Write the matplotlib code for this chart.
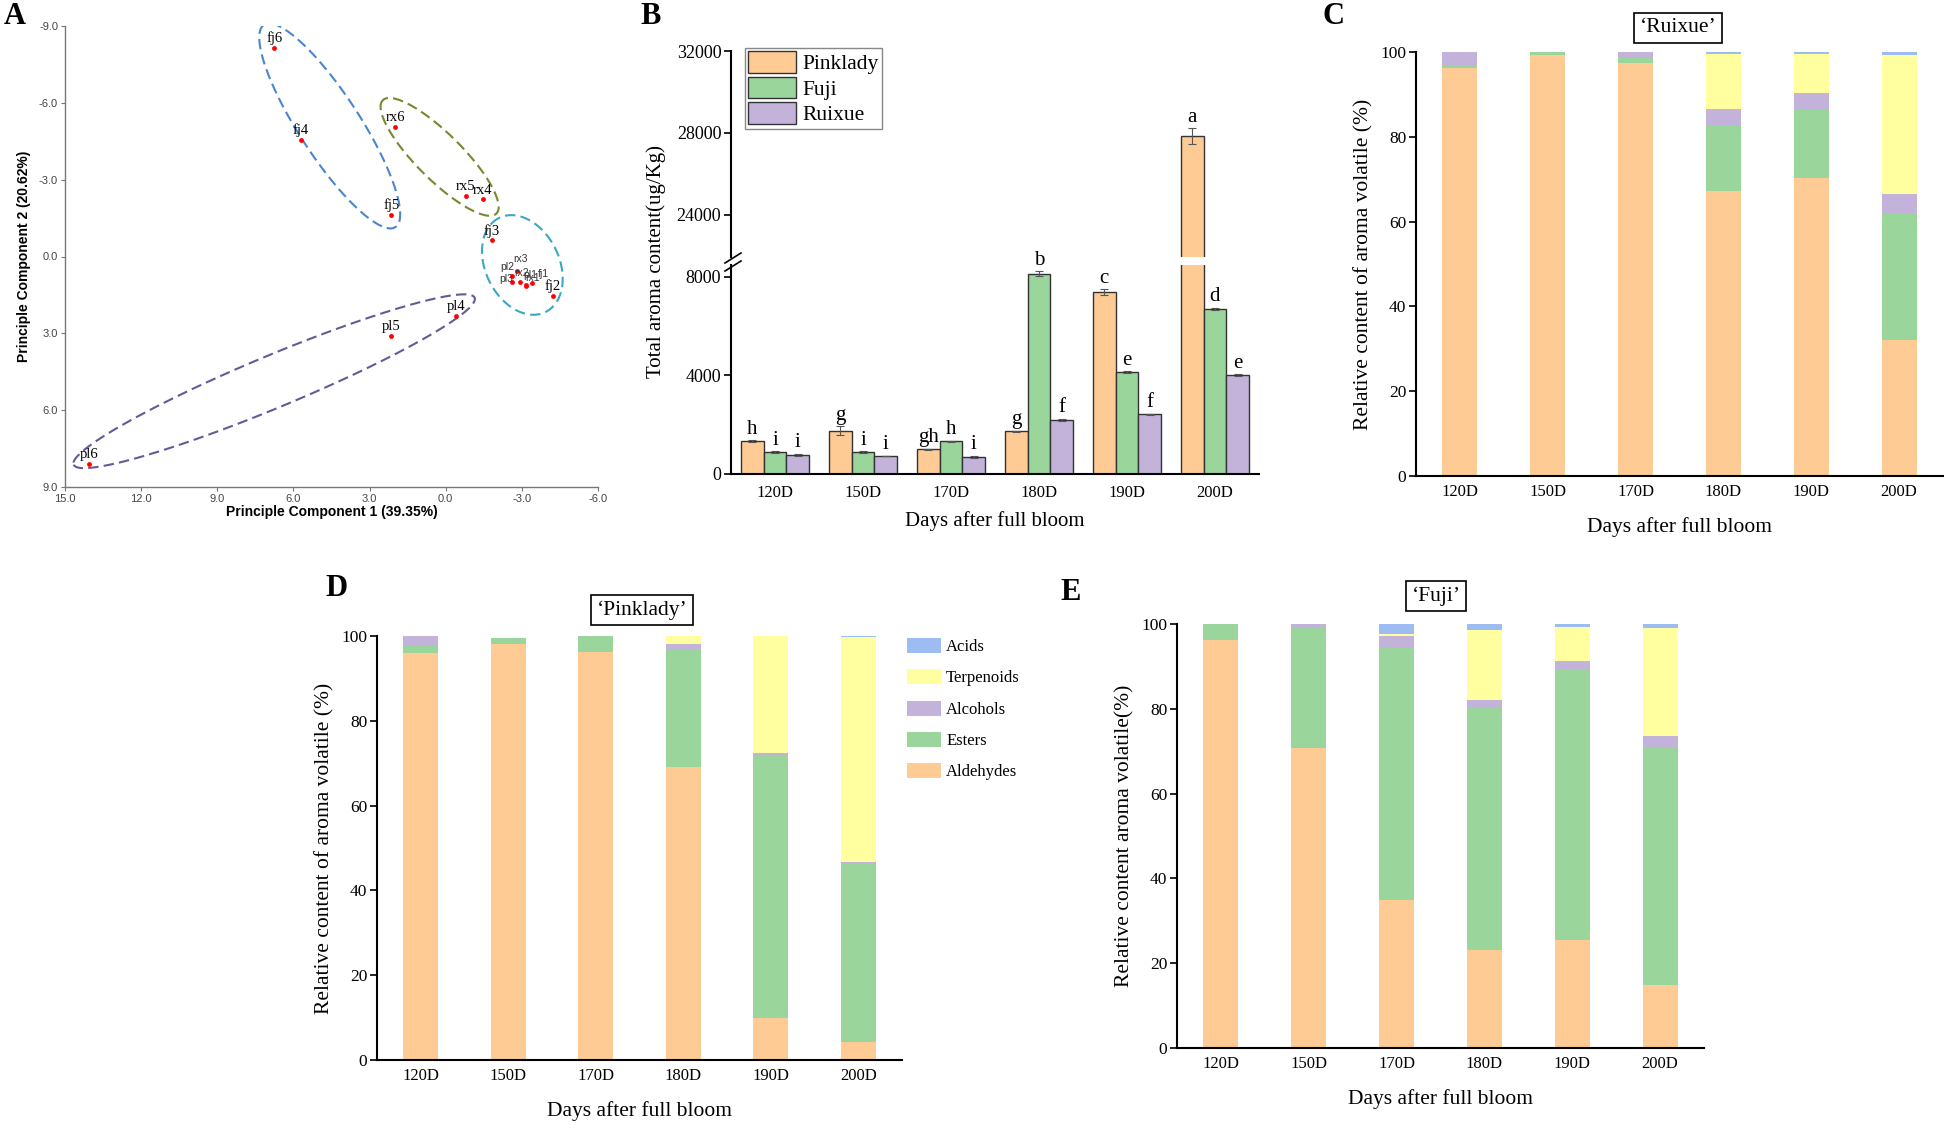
import numpy as np
import matplotlib.pyplot as plt
from matplotlib.patches import Patch
from matplotlib.lines import Line2D
from matplotlib.ticker import FixedLocator, FuncFormatter

W, H = 1944, 1125
plt.rcParams['font.family'] = 'Liberation Serif'
plt.rcParams['axes.linewidth'] = 1.2

# ---------- PCA (panel A) ----------
pca_labels = ['fj6', 'fj4', 'fj5', 'rx6', 'rx5', 'rx4', 'fj3', 'fj2', 'pl4', 'pl5', 'pl6',
              'rx3', 'pl2', 'pl3', 'rx2', 'pl1', 'rx1', 'fj1']
pc1 = [6.75, 5.72, 2.14, 1.98, -0.78, -1.46, -1.81, -4.22, -0.42, 2.14, 14.06,
       -2.82, -2.60, -2.60, -2.93, -3.15, -3.16, -3.40]
pc2 = [-8.14, -4.56, -1.62, -5.05, -2.37, -2.23, -0.63, 1.55, 2.33, 3.10, 8.09,
       0.56, 0.76, 1.00, 1.00, 1.12, 1.15, 1.04]
cluster = {'rx3', 'pl2', 'pl3', 'rx2', 'pl1', 'rx1', 'fj1'}

# ellipse: centre, major half-axis, minor half-axis (data units), colour
ell_centre = [(4.57, -5.10), (0.24, -3.89), (-3.02, 0.33), (6.76, 4.87)]
ell_major = [(2.59, -3.95), (2.24, -2.21), (0.93, -1.83), (7.90, 3.26)]
ell_minor = [(1.00, 0.66), (0.63, 0.64), (1.29, 0.66), (-0.39, 0.94)]
ell_color = ['#4A86CC', '#748A2E', '#3AA8C1', '#6A5896']

# ---------- total aroma (panel B) ----------
days = ['120D', '150D', '170D', '180D', '190D', '200D']
cultivars = ['Pinklady', 'Fuji', 'Ruixue']
total_pl = [1320, 1760, 1000, 1730, 7380, 27850]
total_fj = [890, 890, 1320, 8120, 4130, 6710]
total_rx = [780, 730, 700, 2200, 2420, 4010]
err_pl = [40, 170, 30, 30, 110, 380]
err_fj = [30, 40, 25, 110, 50, 40]
err_rx = [40, 20, 50, 40, 20, 40]
letters_pl = ['h', 'g', 'gh', 'g', 'c', 'a']
letters_fj = ['i', 'i', 'h', 'b', 'e', 'd']
letters_rx = ['i', 'i', 'i', 'f', 'f', 'e']

# ---------- relative composition (panels C, D, E) ----------
classes = ['Aldehydes', 'Esters', 'Alcohols', 'Terpenoids', 'Acids']
rx_ald = [96.3, 99.3, 97.3, 67.3, 70.2, 32.0]
rx_est = [0.6, 0.7, 1.2, 15.4, 16.1, 30.1]
rx_alc = [3.1, 0.0, 1.5, 3.8, 4.0, 4.3]
rx_ter = [0.0, 0.0, 0.0, 13.0, 9.2, 32.9]
rx_acd = [0.0, 0.0, 0.0, 0.5, 0.5, 0.7]

pl_ald = [96.1, 98.0, 96.2, 69.0, 9.9, 4.2]
pl_est = [1.5, 1.6, 3.8, 27.8, 61.8, 42.2]
pl_alc = [2.4, 0.0, 0.0, 1.4, 0.7, 0.2]
pl_ter = [0.0, 0.0, 0.0, 1.8, 27.6, 53.2]
pl_acd = [0.0, 0.0, 0.0, 0.0, 0.0, 0.2]

fj_ald = [96.3, 70.7, 34.9, 23.0, 25.5, 14.9]
fj_est = [3.7, 28.4, 59.6, 57.4, 64.0, 55.9]
fj_alc = [0.0, 0.9, 2.6, 1.7, 1.8, 2.8]
fj_ter = [0.0, 0.0, 0.6, 16.6, 8.0, 25.5]
fj_acd = [0.0, 0.0, 2.3, 1.3, 0.7, 0.9]

ORANGE = '#FDCB93'
GREEN = '#9AD59C'
PURPLE = '#C3B2D9'
YELLOW = '#FFFFA0'
BLUE = '#9DBCF2'
class_colors = [ORANGE, GREEN, PURPLE, YELLOW, BLUE]

fig = plt.figure(figsize=(W / 100, H / 100), dpi=100)


def add_ax(x0, y0, x1, y1):
    # pixel box (top-left origin) -> figure axes
    return fig.add_axes([x0 / W, 1 - y1 / H, (x1 - x0) / W, (y1 - y0) / H])


def fig_text(x, y, s, **kw):
    return fig.text(x / W, 1 - y / H, s, **kw)


# ================= A =================
axA = add_ax(65, 26, 598, 487)
t = np.linspace(0, 2 * np.pi, 300)
for (cx, cy), (mx, my), (nx, ny), col in zip(ell_centre, ell_major, ell_minor, ell_color):
    ex = cx + mx * np.cos(t) + nx * np.sin(t)
    ey = cy + my * np.cos(t) + ny * np.sin(t)
    axA.plot(ex, ey, color=col, lw=1.5, ls=(0, (5, 2.5)))
axA.scatter(pc1, pc2, s=12, color='red', linewidths=0, zorder=3)
for lab, x, y in zip(pca_labels, pc1, pc2):
    if lab in cluster:
        continue
    axA.annotate(lab, (x, y), xytext=(0, 2), textcoords='offset points',
                 ha='center', va='bottom', fontsize=10.5)
# crowded group near the origin
cl_off = {'rx3': (2, 5), 'pl2': (-3, 3), 'pl3': (-4, -1), 'rx2': (1, 3),
          'pl1': (3, 4), 'rx1': (5, 2), 'fj1': (8, 3)}
for lab, x, y in zip(pca_labels, pc1, pc2):
    if lab in cluster:
        axA.annotate(lab, (x, y), xytext=cl_off[lab], textcoords='offset points',
                     ha='center', va='bottom', fontsize=7.5, color='#333333',
                     family='Liberation Sans')
axA.set_xlim(15, -6)
axA.set_ylim(9, -9)
axA.xaxis.set_major_locator(FixedLocator(np.arange(15, -6.1, -3)))
axA.yaxis.set_major_locator(FixedLocator(np.arange(-9, 9.1, 3)))
fmt = FuncFormatter(lambda v, p: f"{v + 0.0:.1f}")
axA.xaxis.set_major_formatter(fmt)
axA.yaxis.set_major_formatter(fmt)
for s in ['top', 'right']:
    axA.spines[s].set_visible(False)
for s in ['left', 'bottom']:
    axA.spines[s].set_color('#777777')
    axA.spines[s].set_linewidth(1.0)
axA.tick_params(length=3, color='#777777', labelcolor='#444444', labelsize=8, pad=2)
for lbl in axA.get_xticklabels() + axA.get_yticklabels():
    lbl.set_family('Liberation Sans')
axA.set_xlabel('Principle Component 1 (39.35%)', fontsize=10, fontweight='bold',
               family='Liberation Sans', labelpad=1)
axA.set_ylabel('Principle Component 2 (20.62%)', fontsize=10, fontweight='bold',
               family='Liberation Sans', labelpad=6)

# ================= B =================
axU = add_ax(731, 51, 1259, 257)
axL = add_ax(731, 265, 1259, 474)
xpos = np.arange(len(days))
bw = 0.26
series = [(total_pl, err_pl, letters_pl, ORANGE),
          (total_fj, err_fj, letters_fj, GREEN),
          (total_rx, err_rx, letters_rx, PURPLE)]
low_top = 8475
for k, (vals, errs, lets, col) in enumerate(series):
    xs = xpos + (k - 1) * bw
    for a in (axU, axL):
        a.bar(xs, vals, bw, color=col, edgecolor='#333333', linewidth=1.0,
              yerr=errs, capsize=3,
              error_kw=dict(elinewidth=0.8, ecolor='#555555', capthick=0.8))
    for xx, v, e, lt in zip(xs, vals, errs, lets):
        a = axU if v > low_top else axL
        a.annotate(lt, (xx, v + e), xytext=(0, 1), textcoords='offset points',
                   ha='center', va='bottom', fontsize=15)
axU.set_ylim(21940, 32000)
axL.set_ylim(0, low_top)
for a in (axU, axL):
    a.set_xlim(-0.5, 5.5)
    a.spines['top'].set_visible(False)
    a.spines['right'].set_visible(False)
    a.spines['left'].set_linewidth(1.5)
    a.tick_params(axis='y', labelsize=13, length=5, width=1.2, pad=2)
axU.spines['bottom'].set_visible(False)
axU.set_xticks([])
axU.set_yticks([24000, 28000, 32000])
axL.set_yticks([0, 4000, 8000])
axL.spines['bottom'].set_linewidth(1.5)
axL.set_xticks(xpos)
axL.set_xticklabels(days)
axL.tick_params(axis='x', length=0, labelsize=12, pad=8)
axL.set_xlabel('Days after full bloom', fontsize=15, labelpad=7)
fig_text(656, 262, 'Total aroma content(ug/Kg)', rotation=90, ha='center', va='center',
         fontsize=15)
handles = [Patch(facecolor=c, edgecolor='#333333', linewidth=1.0)
           for c in (ORANGE, GREEN, PURPLE)]
axU.legend(handles, cultivars, loc='upper left', bbox_to_anchor=(0.0265, 1.0146),
           borderaxespad=0, fontsize=15.5, frameon=True, fancybox=False,
           edgecolor='#888888', framealpha=1, handlelength=2.2, handleheight=1.15,
           handletextpad=0.33, labelspacing=0.12, borderpad=0.15)
# axis break marks
for dy in (0, 8):
    fig.add_artist(Line2D([725 / W, 741 / W], [1 - (263 + dy) / H, 1 - (253 + dy) / H],
                          color='black', lw=1.2))


# ================= C, D, E =================
def stacked(box, comps, title, title_xy, ylabel):
    ax = add_ax(*box)
    bottom = np.zeros(len(days))
    for vals, col in zip(comps, class_colors):
        ax.bar(np.arange(len(days)), vals, 0.4, bottom=bottom, color=col, linewidth=0)
        bottom = bottom + np.array(vals)
    ax.set_xlim(-0.5, 5.5)
    ax.set_ylim(0, 100)
    ax.set_yticks(np.arange(0, 101, 20))
    ax.set_xticks(np.arange(len(days)))
    ax.set_xticklabels(days)
    ax.spines['top'].set_visible(False)
    ax.spines['right'].set_visible(False)
    ax.spines['left'].set_linewidth(1.5)
    ax.spines['bottom'].set_linewidth(1.5)
    ax.tick_params(axis='y', labelsize=12.5, length=5, width=1.2, pad=2)
    ax.tick_params(axis='x', labelsize=12, length=0, pad=6)
    ax.set_xlabel('Days after full bloom', fontsize=15.5, labelpad=12)
    ax.set_ylabel(ylabel, fontsize=15.5, labelpad=5)
    fig_text(title_xy[0], title_xy[1], title, ha='center', va='center', fontsize=15.5,
             bbox=dict(boxstyle='square,pad=0.25', facecolor='white', edgecolor='black',
                       linewidth=1.2))
    return ax


stacked((1416, 52, 1943, 476), [rx_ald, rx_est, rx_alc, rx_ter, rx_acd],
        '\u2018Ruixue\u2019', (1678, 28), 'Relative content of aroma volatile (%)')
axD = stacked((377, 636, 902, 1060), [pl_ald, pl_est, pl_alc, pl_ter, pl_acd],
              '\u2018Pinklady\u2019', (642, 610), 'Relative content of aroma volatile (%)')
stacked((1177, 624, 1704, 1048), [fj_ald, fj_est, fj_alc, fj_ter, fj_acd],
        '\u2018Fuji\u2019', (1436, 596), 'Relative content aroma volatile(%)')

leg_handles = [Patch(facecolor=c, linewidth=0) for c in class_colors[::-1]]
axD.legend(leg_handles, classes[::-1], loc='upper left',
           bbox_to_anchor=(907 / W, 1 - 638 / H), bbox_transform=fig.transFigure,
           frameon=False, fontsize=12, borderpad=0, borderaxespad=0,
           handlelength=2.05, handleheight=1.0, handletextpad=0.3, labelspacing=0.85)

# panel letters
for lt, (px, py) in zip('ABCDE', [(15, 17), (651, 16), (1333, 17), (336, 589), (1071, 593)]):
    fig_text(px, py, lt, ha='center', va='center', fontsize=22, fontweight='bold')

fig.savefig('out.png', dpi=100)
